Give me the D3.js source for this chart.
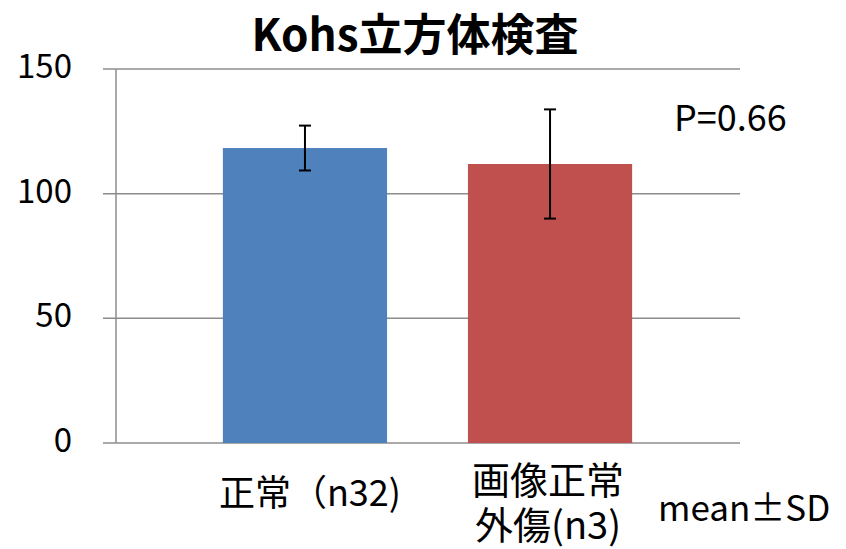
<!DOCTYPE html>
<html>
<head>
<meta charset="utf-8">
<script src="https://cdn.jsdelivr.net/npm/d3@7"></script>
<style>
  body { margin: 0; background: #fff; }
  text { font-family: "Noto Sans CJK JP", "Noto Sans", sans-serif; fill: #000; }
</style>
</head>
<body>
<div id="chart"></div>
<script>
var categories = ["正常（n32)", "画像正常\n外傷(n3)"];
var means = [118.3, 111.9];
var sds = [9.0, 21.9];
var colors = ["#4F81BD", "#C0504D"];
var yTicks = [0, 50, 100, 150];

var width = 846, height = 549;

var svg = d3.select("#chart").append("svg")
    .attr("width", width)
    .attr("height", height);

var y = d3.scaleLinear()
    .domain([0, 150])
    .range([443, 69]);

var x = d3.scaleBand()
    .domain(categories)
    .range([142, 713])
    .padding(0.33);

// gridlines
svg.append("g")
    .selectAll("line")
    .data(yTicks)
    .enter().append("line")
    .attr("x1", 103).attr("x2", 740)
    .attr("y1", d => y(d)).attr("y2", d => y(d))
    .attr("stroke", "#8c8c8c")
    .attr("stroke-width", 1.5);

// y axis line
svg.append("line")
    .attr("x1", 116).attr("x2", 116)
    .attr("y1", y(150)).attr("y2", y(0))
    .attr("stroke", "#8c8c8c")
    .attr("stroke-width", 1.5);

// tick labels
svg.append("g")
    .selectAll("text")
    .data(yTicks)
    .enter().append("text")
    .attr("x", 72)
    .attr("y", d => y(d) - 3)
    .attr("dy", "0.36em")
    .attr("text-anchor", "end")
    .style("font-size", "33px")
    .text(d => d);

// bars
svg.append("g")
    .selectAll("rect")
    .data(categories)
    .enter().append("rect")
    .attr("x", d => x(d))
    .attr("width", x.bandwidth())
    .attr("y", (d, i) => y(means[i]))
    .attr("height", (d, i) => y(0) - y(means[i]))
    .attr("fill", (d, i) => colors[i]);

// error bars
var eb = svg.append("g").attr("stroke", "#000").attr("stroke-width", 2);
categories.forEach(function(c, i) {
    var cx = x(c) + x.bandwidth() / 2;
    var hi = y(means[i] + sds[i]), lo = y(means[i] - sds[i]);
    eb.append("line").attr("x1", cx).attr("x2", cx).attr("y1", hi).attr("y2", lo);
    eb.append("line").attr("x1", cx - 6).attr("x2", cx + 6).attr("y1", hi).attr("y2", hi);
    eb.append("line").attr("x1", cx - 6).attr("x2", cx + 6).attr("y1", lo).attr("y2", lo);
});

// category labels, one text per line
categories.forEach(function(c, i) {
    var lines = c.split("\n");
    var cx = x(c) + x.bandwidth() / 2 + (lines.length === 1 ? 5 : -2);
    var y0 = lines.length === 1 ? 506 : 494;
    lines.forEach(function(l, k) {
        svg.append("text")
            .attr("x", cx)
            .attr("y", y0 + k * 45)
            .attr("text-anchor", "middle")
            .style("font-size", lines.length === 1 ? "36px" : "38px")
            .text(l);
    });
});

// title
svg.append("text")
    .attr("x", 415)
    .attr("y", 51)
    .attr("text-anchor", "middle")
    .style("font-size", "44px")
    .style("font-weight", "bold")
    .text("Kohs立方体検査");

svg.append("text")
    .attr("x", 674)
    .attr("y", 131)
    .style("font-size", "36px")
    .text("P=0.66");

svg.append("text")
    .attr("x", 658)
    .attr("y", 521)
    .style("font-size", "35px")
    .text("mean±SD");
</script>
</body>
</html>
